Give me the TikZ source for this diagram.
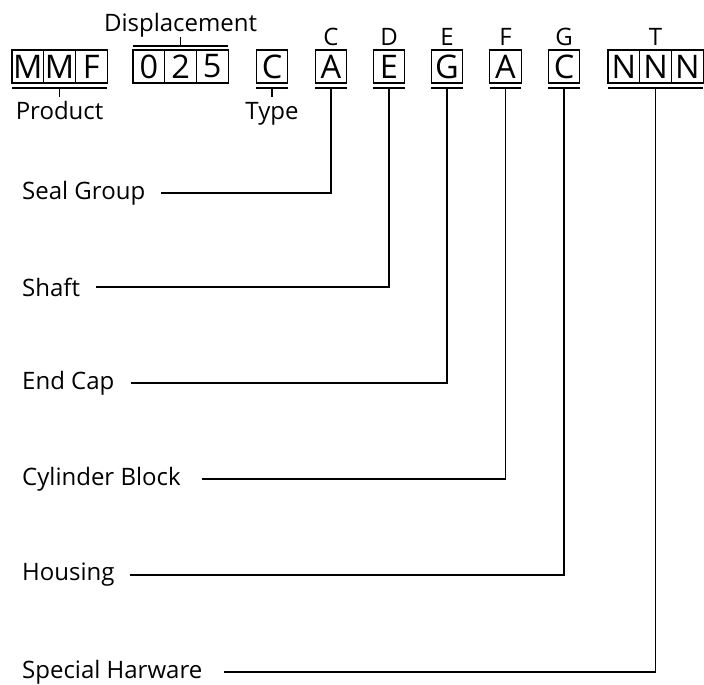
\documentclass[tikz,border=0pt]{standalone}
\usepackage{fontspec}
\setmainfont{Open Sans}
\usetikzlibrary{positioning}

\tikzset{
  cell/.style={draw, line width=1.2pt, outer sep=0pt, inner sep=0pt,
    minimum width=31.7pt, minimum height=33pt, font=\fontsize{32.5}{32.5}\selectfont},
  code/.style={inner sep=0pt, font=\fontsize{24}{24}\selectfont},
  lbl/.style={inner sep=0pt, font=\fontsize{24}{24}\selectfont},
  lead/.style={line width=1.2pt},
}

\begin{document}
\begin{tikzpicture}[x=1pt, y=-1pt]
  \useasboundingbox (0,0) rectangle (704,685);

  % Product
  \node[cell] (p1) at (27.85,66.5) {M};
  \node[cell, right=0pt of p1] (p2) {M};
  \node[cell, right=0pt of p2] (p3) {F};
  % Displacement
  \node[cell] (d1) at (148.85,66.5) {0};
  \node[cell, right=0pt of d1] (d2) {2};
  \node[cell, right=0pt of d2] (d3) {5};
  % Type and single codes
  \node[cell] (ty) at (272,66.5) {C};
  \node[cell] (sg) at (331,66.5) {A};
  \node[cell] (sh) at (389,66.5) {E};
  \node[cell] (ec) at (447,66.5) {G};
  \node[cell] (cb) at (505.5,66.5) {A};
  \node[cell] (ho) at (564,66.5) {C};
  % Special hardware
  \node[cell] (h1) at (623.85,66.5) {N};
  \node[cell, right=0pt of h1] (h2) {N};
  \node[cell, right=0pt of h2] (h3) {N};

  % Letters above
  \node[code, above=4pt of sg] {C};
  \node[code, above=4pt of sh] {D};
  \node[code, above=4pt of ec] {E};
  \node[code, above=4pt of cb] {F};
  \node[code, above=4pt of ho] {G};
  \node[code, above=4pt of h2] {T};

  % Brackets
  \draw[lead] ([yshift=-5pt]p1.south west) -- ([yshift=-5pt]p3.south east);
  \draw[lead] ([yshift=-5pt]p2.south) -- ([yshift=-14pt]p2.south);
  \node[lbl, anchor=base] (prod) at ([yshift=-36pt]p2.south) {Product};

  \draw[lead] ([yshift=4pt]d1.north west) -- ([yshift=4pt]d3.north east);
  \draw[lead] ([yshift=4pt]d2.north) -- ([yshift=13pt]d2.north);
  \node[lbl, anchor=base] (disp) at ([yshift=18pt]d2.north) {Displacement};

  \draw[lead] ([yshift=-5pt]h1.south west) -- ([yshift=-5pt]h3.south east);
  \foreach \n in {ty,sg,sh,ec,cb,ho}
    \draw[lead] ([yshift=-5pt]\n.south west) -- ([yshift=-5pt]\n.south east);
  \draw[lead] ([yshift=-5pt]ty.south) -- ([yshift=-14pt]ty.south);
  \node[lbl, anchor=base] (type) at ([yshift=-36pt]ty.south) {Type};

  % Labels on the left
  \node[lbl, anchor=west] (lsg) at (22,193) {Seal Group};
  \node[lbl, anchor=west] (lsh) at (22,287) {Shaft};
  \node[lbl, anchor=west] (lec) at (22,383) {End Cap};
  \node[lbl, anchor=west] (lcb) at (22,479) {Cylinder Block};
  \node[lbl, anchor=west] (lho) at (22,575) {Housing};
  \node[lbl, anchor=west] (lhw) at (22,672) {Special Harware};

  % Leaders
  \draw[lead] ([yshift=-5pt]sg.south) |- ([xshift=16pt]lsg.east);
  \draw[lead] ([yshift=-5pt]sh.south) |- ([xshift=16pt]lsh.east);
  \draw[lead] ([yshift=-5pt]ec.south) |- ([xshift=16pt]lec.east);
  \draw[lead] ([yshift=-5pt]cb.south) |- ([xshift=21pt]lcb.east);
  \draw[lead] ([yshift=-5pt]ho.south) |- ([xshift=15pt]lho.east);
  \draw[lead] ([yshift=-5pt]h2.south) |- ([xshift=21pt]lhw.east);
\end{tikzpicture}
\end{document}
